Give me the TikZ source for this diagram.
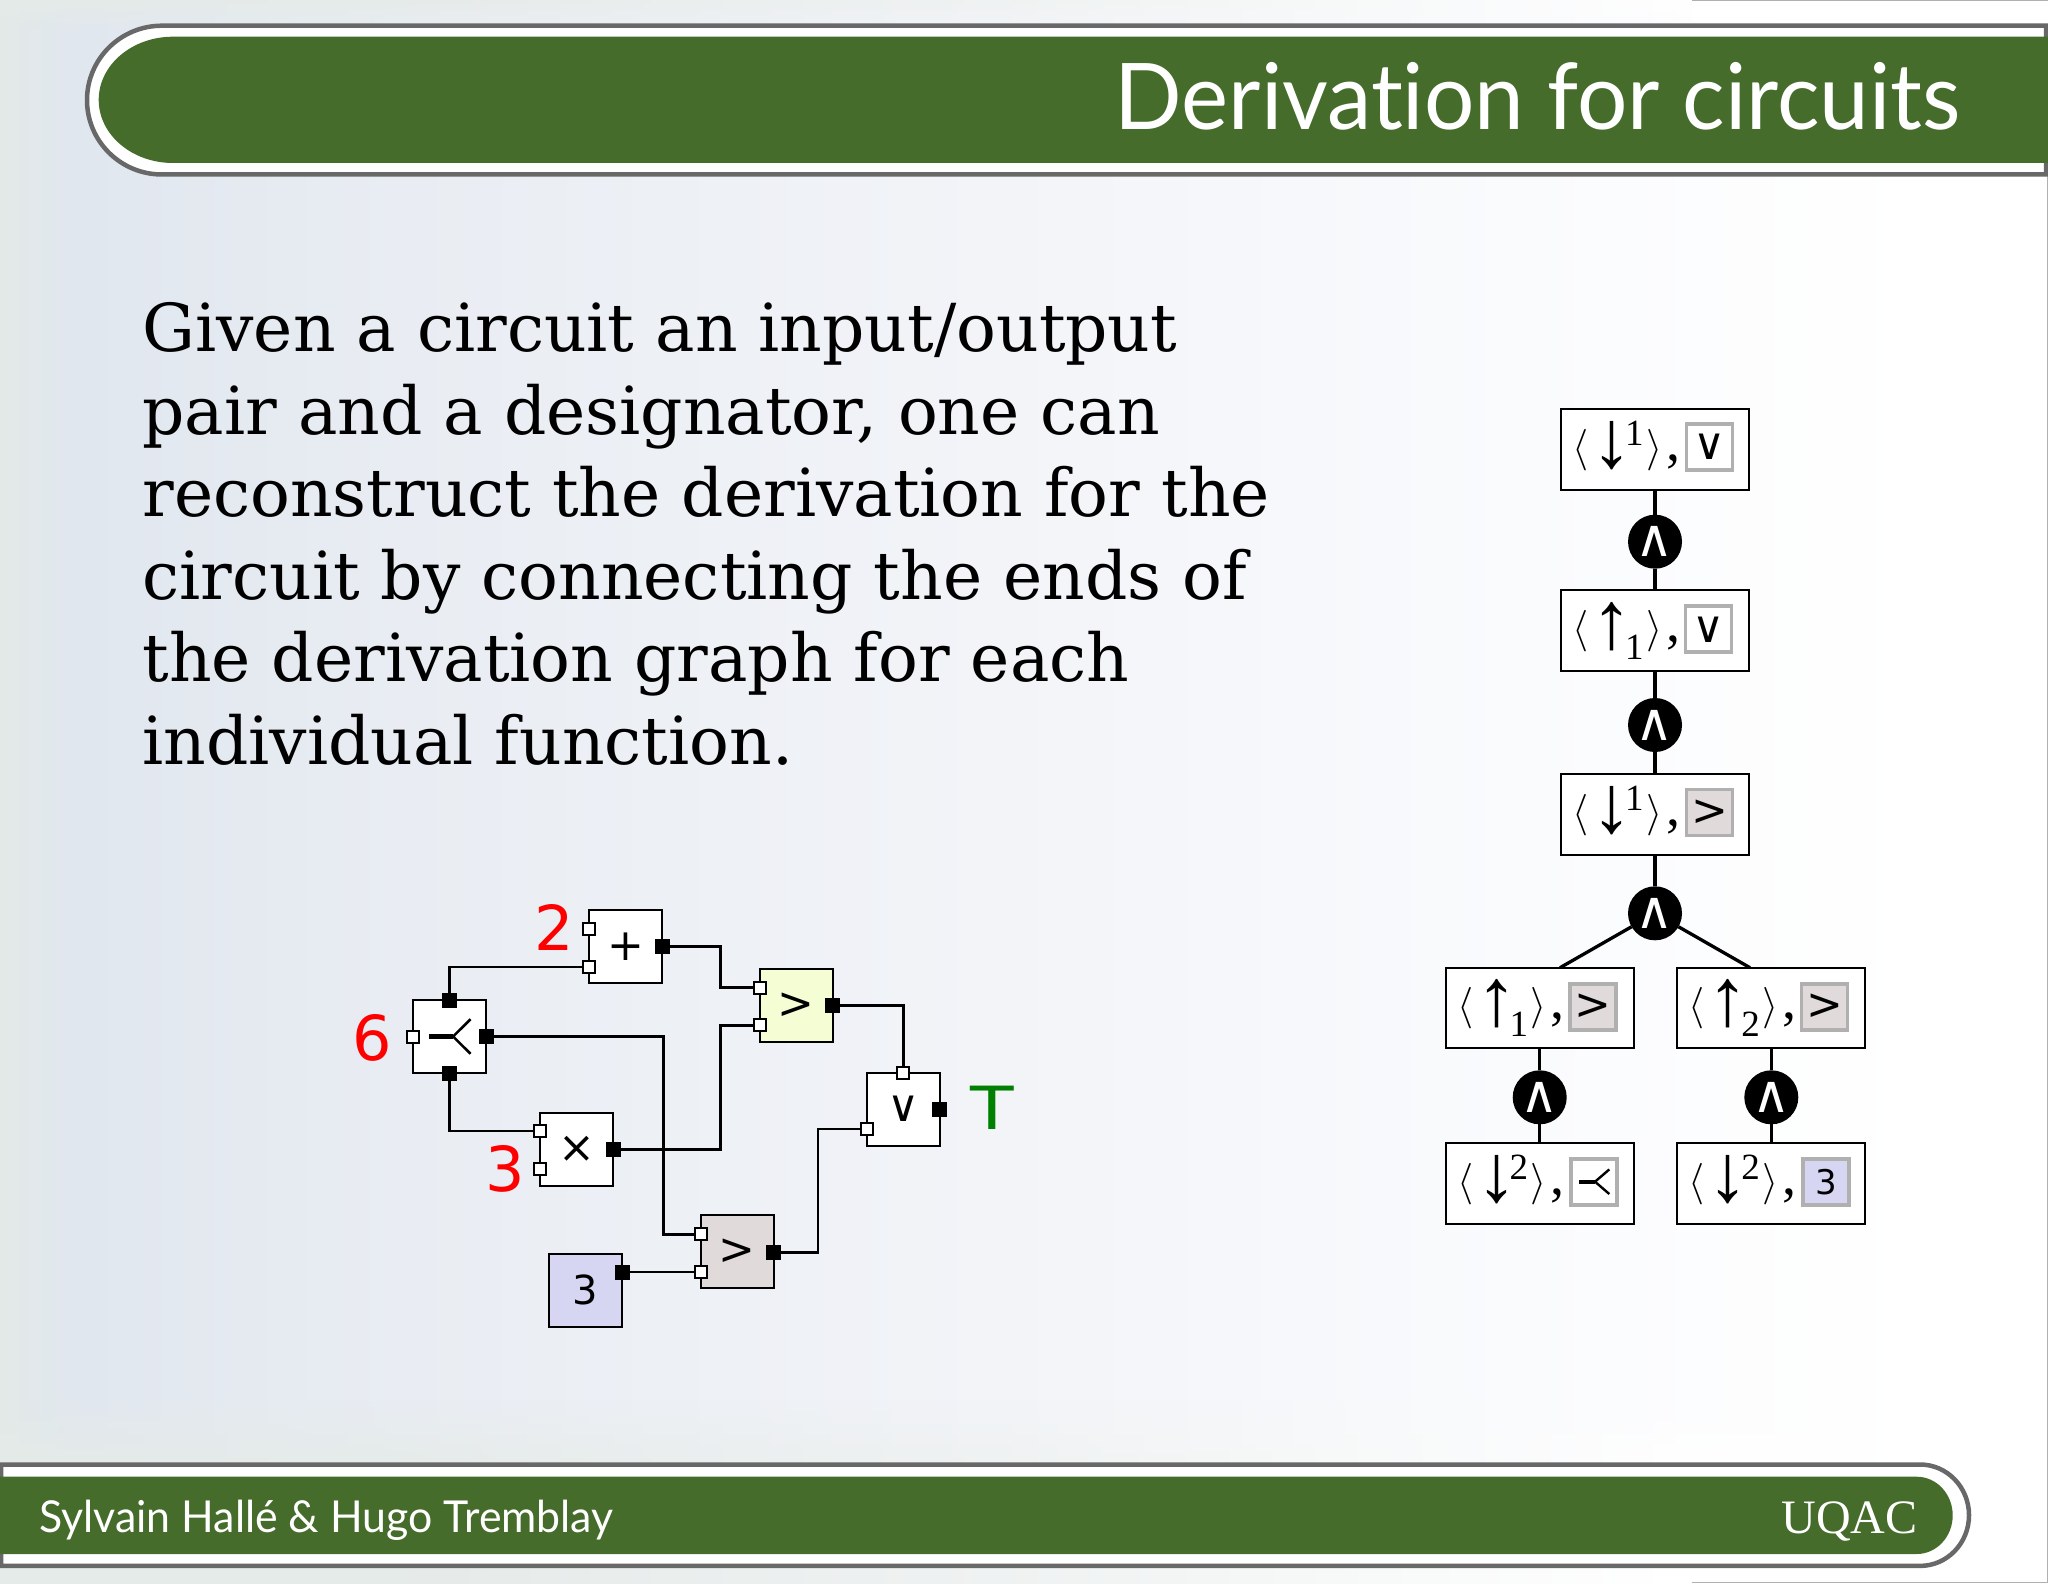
\documentclass[tikz,border=0pt]{standalone}
\usepackage{fontspec}
\usetikzlibrary{fadings}
\setmainfont{DejaVu Serif}
\newfontfamily\gatefont{DejaVu Sans}
\newfontfamily\titlefont[Ligatures=CommonOff,FakeStretch=0.967]{Lato}
\newfontfamily\authorfont[Ligatures=CommonOff,FakeStretch=0.973]{Lato}
\newfontfamily\timesfont{Liberation Serif}
\definecolor{barg}{HTML}{456C2B}
\definecolor{barl}{HTML}{686868}
\definecolor{fgray}{HTML}{E0DADA}
\definecolor{flav}{HTML}{D6D6F2}
\definecolor{fgreen}{HTML}{F4FDD4}
\definecolor{sline}{HTML}{B0B0B0}
\pgfdeclarehorizontalshading{bgshade}{100bp}{
  rgb(0bp)=(0.89,0.915,0.90);
  rgb(25bp)=(0.89,0.915,0.90);
  rgb(25.7bp)=(0.885,0.91,0.92);
  rgb(27bp)=(0.882,0.906,0.937);
  rgb(35bp)=(0.914,0.93,0.953);
  rgb(49.5bp)=(0.95,0.957,0.973);
  rgb(62bp)=(0.98,0.984,0.992);
  rgb(72bp)=(1,1,1);
  rgb(100bp)=(1,1,1)}
\pgfdeclarehorizontalshading{bandshade}{100bp}{
  rgb(0bp)=(0.90,0.92,0.91);
  rgb(25bp)=(0.90,0.92,0.91);
  rgb(35bp)=(0.90,0.92,0.915);
  rgb(50bp)=(0.94,0.95,0.95);
  rgb(66bp)=(1,1,1);
  rgb(100bp)=(1,1,1)}
\newcommand\atx[2]{\makebox[0pt][l]{\hspace*{#1}#2}}
\newcommand\pairtext[3]{\hbox to 60pt{%
  \atx{5.8pt}{\fontsize{20pt}{20pt}\selectfont$\langle$}%
  \atx{15.3pt}{\raisebox{-3.5pt}{\timesfont\fontsize{41pt}{41pt}\selectfont #1}}%
  \atx{32pt}{\raisebox{#2}{\timesfont\fontsize{18.5pt}{20pt}\selectfont #3}}%
  \atx{42.5pt}{\fontsize{20pt}{20pt}\selectfont$\rangle$}%
  \atx{52.5pt}{\timesfont\fontsize{28pt}{28pt}\selectfont ,}%
  \hfil}}
\tikzset{
  gate/.style={draw=black,line width=1pt,minimum width=36.5pt,minimum height=36.5pt,inner sep=0pt,outer sep=0pt,fill=white,font=\gatefont\fontsize{20pt}{20pt}\selectfont},
  biggate/.style={gate,font=\gatefont\fontsize{22pt}{22pt}\selectfont},
  inport/.style={draw=black,fill=white,line width=1pt,minimum size=6pt,inner sep=0pt,outer sep=0pt},
  outport/.style={fill=black,minimum size=7.5pt,inner sep=0pt,outer sep=0pt},
  wire/.style={line width=1.35pt,draw=black},
  val/.style={inner sep=0pt,outer sep=0pt,font=\gatefont\fontsize{31pt}{31pt}\selectfont},
  pairbox/.style={draw=black,fill=white,line width=1pt,minimum width=94pt,minimum height=40.2pt,inner sep=0pt,outer sep=0pt},
  pairtxt/.style={anchor=base west,inner sep=0pt,outer sep=0pt},
  small/.style={draw=sline,line width=1.9pt,minimum size=23pt,inner sep=0pt,outer sep=0pt,fill=white,font=\gatefont\fontsize{22pt}{22pt}\selectfont},
  andc/.style={circle,fill=black,minimum size=27pt,inner sep=0pt,outer sep=0pt,text=white,font=\gatefont\fontsize{26pt}{26pt}\selectfont},
  edge/.style={line width=1.65pt,draw=black},
  barpath/.style={draw=barl,line width=2.25pt,fill=white},
}
\begin{document}
\begin{tikzpicture}[x=0.5pt,y=-0.5pt]
\useasboundingbox (0,0) rectangle (2048,1583);
% background
\shade[shading=bgshade] (0,0) rectangle (2048,1583);
\shade[shading=bandshade,path fading=south] (0,0) rectangle (2048,30);
\shade[shading=bandshade,path fading=north] (0,1400) rectangle (2048,1466);
\shade[shading=bandshade] (0,1566) rectangle (2048,1583);
\fill[white] (1692,0) rectangle (2048,22);
\draw[sline,line width=0.8pt] (1692,0.7) -- (2048,0.7);
\draw[sline,line width=0.8pt] (2047.3,176) -- (2047.3,1583);
\draw[sline,line width=0.8pt] (1692,1582.3) -- (2048,1582.3);
% title bar
\path[barpath] (2046,25.7) -- (162,25.7) arc[start angle=270,end angle=90,x radius=75,y radius=74.4] -- (2046,174.5) -- cycle;
\fill[barg] (2048,36.7) -- (173,36.7) arc[start angle=270,end angle=90,x radius=74.3,y radius=63.15] -- (2048,163) -- cycle;
\node[anchor=base east,inner sep=0pt,text=white,font=\titlefont\fontsize{46pt}{46pt}\selectfont] (title) at (1961,130) {Derivation for circuits};
% footer bar
\path[barpath] (1,1464.5) -- (1920,1464.5) arc[start angle=270,end angle=450,x radius=49,y radius=50.7] -- (1,1565.9) -- cycle;
\fill[barg] (0,1476.7) -- (1916.7,1476.7) arc[start angle=270,end angle=450,x radius=36,y radius=38.65] -- (0,1554) -- cycle;
\node[anchor=base west,inner sep=0pt,text=white,font=\authorfont\fontsize{22pt}{22pt}\selectfont] (authors) at (39,1532) {Sylvain Hallé \& Hugo Tremblay};
\node[anchor=base east,inner sep=0pt,text=white,font=\timesfont\fontsize{24pt}{24pt}\selectfont] (uqac) at (1918,1533) {UQAC};
% body text
\node[anchor=north west,inner sep=0pt,align=left,font=\fontsize{33.1pt}{41.3pt}\selectfont] (body) at (142,302) {Given a circuit an input/output\\pair and a designator, one can\\reconstruct the derivation for the\\circuit by connecting the ends of\\the derivation graph for each\\individual function.};
% circuit
\node[biggate] (plus) at (625.5,946.7) {+};
\node[gate] (fork) at (449.8,1036.5) {};
\node[biggate] (times) at (576.8,1149.4) {×};
\node[gate,fill=flav] (const) at (585.5,1290.4) {3};
\node[biggate,fill=fgray] (gtb) at (737.2,1251.9) {>};
\node[biggate,fill=fgreen] (gtg) at (796.2,1005.5) {>};
\node[biggate] (orgate) at (903.3,1109.2) {∨};
\begin{scope}[shift={(fork.center)}]
  \draw[black,line width=2.25pt] (-21,0) -- (3.3,0);
  \draw[black,line width=1.3pt] (20.7,-17.3) -- (3.3,0) -- (20.7,17.3);
\end{scope}
\node[inport] (pi1) at (589,928.7) {};
\node[inport] (pi2) at (589,967) {};
\node[outport] (po) at (662,946.7) {};
\node[inport] (fi) at (413.3,1036.5) {};
\node[outport] (ft) at (449.8,1000) {};
\node[outport] (fr) at (486.3,1036.5) {};
\node[outport] (fb) at (449.8,1073) {};
\node[inport] (ti1) at (540.3,1131) {};
\node[inport] (ti2) at (540.3,1169.3) {};
\node[outport] (to) at (613.3,1149.4) {};
\node[outport] (co) at (622,1272) {};
\node[inport] (bi1) at (700.7,1234.3) {};
\node[inport] (bi2) at (700.7,1272) {};
\node[outport] (bo) at (773.7,1252.5) {};
\node[inport] (gi1) at (759.7,987.7) {};
\node[inport] (gi2) at (759.7,1025.3) {};
\node[outport] (go) at (832.7,1005.8) {};
\node[inport] (oi1) at (903.3,1072.7) {};
\node[inport] (oi2) at (867,1129) {};
\node[outport] (oo) at (939.7,1109) {};
\draw[wire] (po.east) -- (720.3,946.7) |- (gi1.west);
\draw[wire] (to.east) -- (720.5,1149.4) |- (gi2.west);
\draw[wire] (ft.north) |- (pi2.west);
\draw[wire] (fb.south) |- (ti1.west);
\draw[wire] (fr.east) -- (663.3,1036.5) |- (bi1.west);
\draw[wire] (co.east) -- (bi2.west);
\draw[wire] (bo.east) -- (818,1252.5) |- (oi2.west);
\draw[wire] (go.east) -| (oi1.north);
\node[val,text=red] (vplus) at (554,927) {2};
\node[val,text=red] (vfork) at (372.5,1038) {6};
\node[val,text=red] (vtimes) at (505,1169) {3};
\node[val,text={rgb,255:red,0;green,128;blue,0}] (vor) at (992,1108) {\scalebox{1.15}[0.96]{T}};
% derivation tree
\node[pairbox] (b1) at (1655,449.3) {};
\node[pairbox] (b2) at (1655,630.3) {};
\node[pairbox] (b3) at (1655,814.3) {};
\node[pairbox] (b4) at (1539.7,1008) {};
\node[pairbox] (b5) at (1771.3,1008) {};
\node[pairbox] (b6) at (1539.7,1183.3) {};
\node[pairbox] (b7) at (1771.3,1183.3) {};
\node[pairtxt] (t1) at (1561,460) {\pairtext{↓}{7.5pt}{1}};
\node[pairtxt] (t2) at (1561,641) {\pairtext{↑}{-9pt}{1}};
\node[pairtxt] (t3) at (1561,825) {\pairtext{↓}{7.5pt}{1}};
\node[pairtxt] (t4) at (1445.7,1018.7) {\pairtext{↑}{-9pt}{1}};
\node[pairtxt] (t5) at (1677.3,1018.7) {\pairtext{↑}{-9pt}{2}};
\node[pairtxt] (t6) at (1445.7,1194) {\pairtext{↓}{7.5pt}{2}};
\node[pairtxt] (t7) at (1677.3,1194) {\pairtext{↓}{7.5pt}{2}};
\node[small] (s1) at (1709.5,447) {∨};
\node[small] (s2) at (1708.5,629.3) {∨};
\node[small,fill=fgray] (s3) at (1709.5,812.5) {>};
\node[small,fill=fgray] (s4) at (1592.8,1006.8) {>};
\node[small,fill=fgray] (s5) at (1824.5,1006.8) {>};
\node[small] (s6) at (1594.3,1181.7) {};
\node[small,fill=flav,font=\gatefont\fontsize{17pt}{17pt}\selectfont] (s7) at (1825.8,1181.7) {3};
\begin{scope}[shift={(s6.center)}]
  \draw[black,line width=1.9pt] (-15.3,0) -- (0.7,0);
  \draw[black,line width=1.2pt] (15,-12.3) -- (0.7,0) -- (15,12.3);
\end{scope}
\node[andc] (c1) at (1655,541.7) {∧};
\node[andc] (c2) at (1655,725) {∧};
\node[andc] (c3) at (1655,913.3) {∧};
\node[andc] (c4) at (1539.7,1097.3) {∧};
\node[andc] (c5) at (1771.3,1097.3) {∧};
\coordinate (d1) at (1560,967.7);
\coordinate (d2) at (1750,967.7);
\draw[edge] (b1.south) -- (c1.north);
\draw[edge] (c1.south) -- (b2.north);
\draw[edge] (b2.south) -- (c2.north);
\draw[edge] (c2.south) -- (b3.north);
\draw[edge] (b3.south) -- (c3.north);
\draw[edge] (c3) -- (d1);
\draw[edge] (c3) -- (d2);
\draw[edge] (b4.south) -- (c4.north);
\draw[edge] (c4.south) -- (b6.north);
\draw[edge] (b5.south) -- (c5.north);
\draw[edge] (c5.south) -- (b7.north);
\end{tikzpicture}
\end{document}
